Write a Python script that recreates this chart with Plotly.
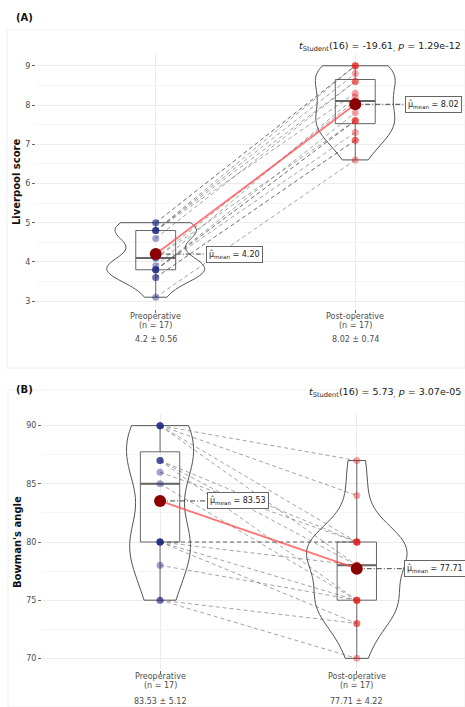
import numpy as np
import plotly.graph_objects as go

# ---------------- data ----------------
categories = ["Preoperative", "Post-operative"]
n_labels = ["(n = 17)", "(n = 17)"]

liverpool_pre = [5.0, 5.0, 4.8, 4.8, 4.8, 4.8, 4.6, 4.1, 4.1, 3.9, 3.8, 3.8, 3.8, 3.8, 3.6, 3.6, 3.1]
liverpool_post = [9.0, 9.0, 8.6, 9.0, 8.8, 8.3, 8.6, 8.1, 7.6, 8.2, 7.8, 7.6, 7.3, 7.6, 7.1, 7.1, 6.6]
liverpool_stats = ["4.2 ± 0.56", "8.02 ± 0.74"]
liverpool_title = "<i>t</i><sub>Student</sub>(16) = -19.61<sub>,</sub> <i>p</i> = 1.29e-12"

bowman_pre = [90, 90, 90, 90, 87, 87, 87, 86, 85, 80, 80, 80, 80, 80, 78, 75, 75]
bowman_post = [87, 84, 80, 78, 80, 75, 78, 80, 75, 78, 80, 75, 73, 80, 75, 73, 70]
bowman_stats = ["83.53 ± 5.12", "77.71 ± 4.22"]
bowman_title = "<i>t</i><sub>Student</sub>(16) = 5.73<sub>,</sub> <i>p</i> = 3.07e-05"

# ---------------- style ----------------
W, H = 465, 707
FONT = "DejaVu Sans"
PRE_COL = "rgba(30,40,130,0.42)"
POST_COL = "rgba(230,30,30,0.40)"
GRID = "#ececec"
MINOR = "#f5f5f5"


def nrd0(v):
    v = np.asarray(v, float)
    sd = v.std(ddof=1)
    iqr = np.subtract(*np.percentile(v, [75, 25]))
    lo = min(sd, iqr / 1.34) if iqr > 0 else sd
    return 0.9 * lo * len(v) ** (-0.2)


fig = go.Figure()


def add_panel(pre, post, xa, ya, vwidths, label_dx):
    xref = "x" if xa == 1 else "x%d" % xa
    yref = "y" if ya == 1 else "y%d" % ya
    groups = [(1, pre), (2, post)]
    for (pos, vals), vw in zip(groups, vwidths):
        fig.add_trace(go.Violin(
            y=vals, x0=pos, width=vw, spanmode="hard", points=False,
            bandwidth=nrd0(vals), scalegroup="g%d_%d" % (xa, pos), scalemode="width",
            line=dict(color="#555555", width=1), fillcolor="rgba(255,255,255,0)",
            box_visible=False, meanline_visible=False, hoverinfo="skip",
            xaxis=xref, yaxis=yref, showlegend=False))
    for pos, vals in groups:
        fig.add_trace(go.Box(
            y=vals, x0=pos, width=0.2, boxpoints=False, whiskerwidth=0,
            line=dict(color="#666666", width=1), fillcolor="rgba(255,255,255,0)",
            hoverinfo="skip", xaxis=xref, yaxis=yref, showlegend=False))
        med = float(np.median(vals))
        fig.add_trace(go.Scatter(
            x=[pos - 0.1, pos + 0.1], y=[med, med], mode="lines",
            line=dict(color="#666666", width=2), hoverinfo="skip",
            xaxis=xref, yaxis=yref, showlegend=False))
    # paired lines
    for a, b in zip(pre, post):
        fig.add_trace(go.Scatter(
            x=[1, 2], y=[a, b], mode="lines",
            line=dict(color="rgba(90,90,90,0.7)", width=0.8, dash="4px,3px"),
            hoverinfo="skip", xaxis=xref, yaxis=yref, showlegend=False))
    # points
    fig.add_trace(go.Scatter(x=[1] * len(pre), y=pre, mode="markers",
                             marker=dict(size=7, color=PRE_COL),
                             xaxis=xref, yaxis=yref, showlegend=False))
    fig.add_trace(go.Scatter(x=[2] * len(post), y=post, mode="markers",
                             marker=dict(size=7, color=POST_COL),
                             xaxis=xref, yaxis=yref, showlegend=False))
    means = [float(np.mean(pre)), float(np.mean(post))]
    # mean label connectors
    for pos, m in zip([1, 2], means):
        fig.add_trace(go.Scatter(
            x=[pos, pos + label_dx], y=[m, m], mode="lines",
            line=dict(color="#111111", width=0.8, dash="5px,2px,1px,2px"),
            hoverinfo="skip", xaxis=xref, yaxis=yref, showlegend=False))
    # mean line
    fig.add_trace(go.Scatter(x=[1, 2], y=means, mode="lines",
                             line=dict(color="rgba(255,70,70,0.75)", width=1.8),
                             xaxis=xref, yaxis=yref, showlegend=False))
    fig.add_trace(go.Scatter(x=[1, 2], y=means, mode="markers",
                             marker=dict(size=12, color="#8b0000"),
                             xaxis=xref, yaxis=yref, showlegend=False))
    for pos, m in zip([1, 2], means):
        fig.add_annotation(
            x=pos + label_dx, y=m, xref=xref, yref=yref, xanchor="left", yanchor="middle",
            text="μ̂<sub>mean</sub> = %.2f" % m, showarrow=False,
            font=dict(family=FONT, size=8, color="#222222"),
            bgcolor="white", bordercolor="#666666", borderwidth=1, borderpad=2)


add_panel(liverpool_pre, liverpool_post, 1, 1, (0.49, 0.40), 0.25)
add_panel(bowman_pre, bowman_post, 2, 2, (0.34, 0.51), 0.24)


def py(px):
    return 1 - px / H


tickfont = dict(family=FONT, size=8, color="#4d4d4d")
xcommon = dict(range=[0.4, 2.55], tickvals=[1, 2], showticklabels=False,
               showgrid=True, gridcolor=GRID, gridwidth=1, zeroline=False,
               ticks="outside", ticklen=3, tickcolor="#666666",
               showline=False, fixedrange=True)
ycommon = dict(showgrid=True, gridcolor=GRID, gridwidth=1, zeroline=False,
               ticks="outside", ticklen=3, tickcolor="#666666", tickfont=tickfont,
               showline=False, fixedrange=True)

fig.update_layout(
    width=W, height=H, margin=dict(l=0, r=0, t=0, b=0),
    paper_bgcolor="white", plot_bgcolor="white",
    font=dict(family=FONT, size=8, color="#4d4d4d"),
    showlegend=False, violinmode="overlay", boxmode="overlay",
    xaxis=dict(domain=[36 / W, 1], anchor="y", **xcommon),
    yaxis=dict(domain=[py(309), py(54)], anchor="x", range=[2.8, 9.3], dtick=1,
               minor=dict(dtick=0.5, showgrid=True, gridcolor=MINOR), **ycommon),
    xaxis2=dict(domain=[42 / W, 1], anchor="y2", **xcommon),
    yaxis2=dict(domain=[py(670), py(414)], anchor="x2", range=[69, 91], dtick=5,
                minor=dict(dtick=2.5, showgrid=True, gridcolor=MINOR), **ycommon),
)

# faint panel frames
for x0, y0, y1 in [(7, 30, 368), (8, 390, 707)]:
    fig.add_shape(type="rect", xref="paper", yref="paper", x0=x0 / W, x1=1,
                  y0=py(y1), y1=py(y0), line=dict(color="#f0f0f0", width=1),
                  fillcolor="rgba(0,0,0,0)", layer="below")

# category labels, n labels and stats under the x axes
for xr, rows, stats in [("x", (316.5, 325.5, 339.5), liverpool_stats),
                        ("x2", (676, 685, 701), bowman_stats)]:
    for i in range(2):
        for txt, ypx in zip([categories[i], n_labels[i], stats[i]], rows):
            fig.add_annotation(x=i + 1, xref=xr, y=py(ypx), yref="paper", text=txt,
                               showarrow=False, font=tickfont, yanchor="middle",
                               xanchor="center")

# titles
fig.add_annotation(x=463 / W, y=py(47), xref="paper", yref="paper", xanchor="right",
                   yanchor="middle", text=liverpool_title, showarrow=False,
                   font=dict(family=FONT, size=9.5, color="#222222"))
fig.add_annotation(x=463 / W, y=py(392), xref="paper", yref="paper", xanchor="right",
                   yanchor="middle", text=bowman_title, showarrow=False,
                   font=dict(family=FONT, size=9.5, color="#222222"))
fig.add_annotation(x=14 / W, y=py(18), xref="paper", yref="paper", xanchor="left",
                   yanchor="middle", text="<b>(A)</b>", showarrow=False,
                   font=dict(family=FONT, size=10, color="#111111"))
fig.add_annotation(x=14 / W, y=py(389), xref="paper", yref="paper", xanchor="left",
                   yanchor="middle", text="<b>(B)</b>", showarrow=False,
                   font=dict(family=FONT, size=10, color="#111111"))
fig.add_annotation(x=16 / W, y=py(182), xref="paper", yref="paper", xanchor="center",
                   yanchor="middle", text="<b>Liverpool score</b>", textangle=-90,
                   showarrow=False, font=dict(family=FONT, size=10, color="#111111"))
fig.add_annotation(x=17 / W, y=py(542), xref="paper", yref="paper", xanchor="center",
                   yanchor="middle", text="<b>Bowman's angle</b>", textangle=-90,
                   showarrow=False, font=dict(family=FONT, size=10, color="#111111"))

fig.write_html("out.html", config={"displayModeBar": False},
               post_script="document.body.style.margin='0';document.body.style.overflow='hidden';")
